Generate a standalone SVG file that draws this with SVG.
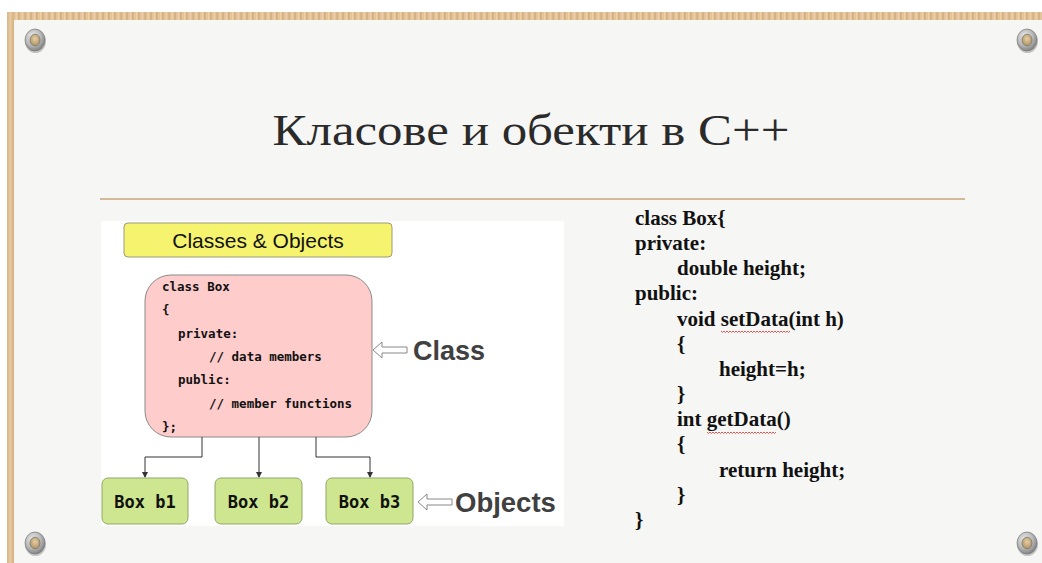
<svg xmlns="http://www.w3.org/2000/svg" width="1042" height="563" viewBox="0 0 1042 563">
<defs>
<pattern id="woodH" x="0" y="0" width="6" height="10" patternUnits="userSpaceOnUse">
<rect width="6" height="10" fill="#e3c49b"/>
<rect x="0" width="2" height="10" fill="#d8b383"/>
<rect x="4" width="1" height="10" fill="#ebd0ab"/>
</pattern>
<linearGradient id="woodV" x1="0" y1="0" x2="1" y2="0">
<stop offset="0" stop-color="#d9b689"/>
<stop offset="0.5" stop-color="#e6c9a1"/>
<stop offset="1" stop-color="#d4ae7d"/>
</linearGradient>
<radialGradient id="ring" cx="0.4" cy="0.35" r="0.75">
<stop offset="0" stop-color="#f0f0f0"/>
<stop offset="0.55" stop-color="#b5b5b5"/>
<stop offset="1" stop-color="#6e6e6e"/>
</radialGradient>
<radialGradient id="hole" cx="0.5" cy="0.4" r="0.6">
<stop offset="0" stop-color="#e6cfa6"/>
<stop offset="1" stop-color="#b0915f"/>
</radialGradient>
<g id="grommet">
<ellipse cx="0.5" cy="1.5" rx="10.5" ry="11.5" fill="#8a8a8a" opacity="0.45"/>
<ellipse cx="0" cy="0" rx="10" ry="11" fill="url(#ring)" stroke="#7a7a7a" stroke-width="0.7"/>
<ellipse cx="0" cy="0" rx="5" ry="5.8" fill="url(#hole)" stroke="#6e6e6e" stroke-width="0.7"/>
</g>
<marker id="arr" markerWidth="6" markerHeight="6" refX="5" refY="3" orient="auto" markerUnits="userSpaceOnUse">
<path d="M0,0 L6,3 L0,6 z" fill="#333"/>
</marker>
<style>
.mono{font-family:"DejaVu Sans Mono","Liberation Mono",monospace;font-weight:bold;fill:#111;}
.code{font-family:"Liberation Serif","DejaVu Serif",serif;font-weight:bold;font-size:21px;fill:#111;}
.lbl{font-family:"Liberation Sans",Arial,sans-serif;font-weight:bold;fill:#404040;}
.obj{fill:#cde68f;stroke:#8fa866;stroke-width:1;}
.conn{fill:none;stroke:#333;stroke-width:1;}
.hollow{fill:#fff;stroke:#888;stroke-width:1;}
.squig{fill:none;stroke:#e03030;stroke-width:0.8;}
</style>
</defs>

<!-- background -->
<rect width="1042" height="563" fill="#ffffff"/>
<rect x="14" y="20" width="1028" height="543" fill="#f6f6f5"/>
<rect x="7" y="12" width="1035" height="8" fill="url(#woodH)"/>
<rect x="7" y="12" width="7" height="551" fill="url(#woodV)"/>

<use href="#grommet" x="35" y="40"/>
<use href="#grommet" x="1027" y="40"/>
<use href="#grommet" x="35" y="543"/>
<use href="#grommet" x="1027" y="543"/>

<!-- title -->
<text x="531" y="145" text-anchor="middle" font-family="Liberation Serif, DejaVu Serif, serif" font-size="45" fill="#2a2a2a" textLength="517" lengthAdjust="spacingAndGlyphs">Класове и обекти в С++</text>
<line x1="100" y1="199" x2="965" y2="199" stroke="#c4a57a" stroke-width="1.5"/>

<!-- diagram panel -->
<rect x="101" y="221" width="463" height="305" fill="#ffffff"/>

<g id="title-box">
<rect x="124" y="223" width="268" height="34" rx="4" fill="#f6f46e" stroke="#9a9a7a" stroke-width="1"/>
<text x="258" y="248" text-anchor="middle" font-family="Liberation Sans, Arial, sans-serif" font-size="21" fill="#111">Classes &amp; Objects</text>
</g>

<g id="class-box">
<rect x="145" y="275" width="227" height="162" rx="26" fill="#ffcccc" stroke="#8a8a8a" stroke-width="1"/>
<text class="mono" font-size="12.5" x="162" y="291">class Box</text>
<text class="mono" font-size="12.5" x="162" y="314">{</text>
<text class="mono" font-size="12.5" x="178" y="338">private:</text>
<text class="mono" font-size="12.5" x="209" y="361">// data members</text>
<text class="mono" font-size="12.5" x="178" y="384">public:</text>
<text class="mono" font-size="12.5" x="209" y="408">// member functions</text>
<text class="mono" font-size="12.5" x="162" y="431">};</text>
</g>

<g id="connectors">
<path class="conn" d="M202,437 V457 H145 V477" marker-end="url(#arr)"/>
<path class="conn" d="M259,437 V477" marker-end="url(#arr)"/>
<path class="conn" d="M316,437 V457 H370 V477" marker-end="url(#arr)"/>
<path class="hollow" d="M373,350 L382,342 V347 H407 V353 H382 V358 Z"/>
<path class="hollow" d="M418,502 L427,494 V499 H452 V505 H427 V510 Z"/>
</g>

<g id="class-label">
<text class="lbl" x="413" y="360" font-size="27">Class</text>
</g>
<g id="objects-label">
<text class="lbl" x="455" y="512" font-size="27.5">Objects</text>
</g>

<g id="obj-b1">
<rect class="obj" x="102" y="478" width="86" height="46" rx="6"/>
<text class="mono" font-size="17" x="145" y="508" text-anchor="middle" xml:space="preserve">Box b1</text>
</g>
<g id="obj-b2">
<rect class="obj" x="215" y="478" width="87" height="46" rx="6"/>
<text class="mono" font-size="17" x="258.5" y="508" text-anchor="middle" xml:space="preserve">Box b2</text>
</g>
<g id="obj-b3">
<rect class="obj" x="326" y="478" width="87" height="46" rx="6"/>
<text class="mono" font-size="17" x="369.5" y="508" text-anchor="middle" xml:space="preserve">Box b3</text>
</g>

<!-- code -->
<g id="code">
<text class="code" x="635" y="225">class Box{</text>
<text class="code" x="635" y="250">private:</text>
<text class="code" x="677" y="275">double height;</text>
<text class="code" x="635" y="300">public:</text>
<text class="code" x="677" y="326">void setData(int h)</text>
<text class="code" x="677" y="351">{</text>
<text class="code" x="719" y="376">height=h;</text>
<text class="code" x="677" y="401">}</text>
<text class="code" x="677" y="426">int getData()</text>
<text class="code" x="677" y="451">{</text>
<text class="code" x="719" y="477">return height;</text>
<text class="code" x="677" y="502">}</text>
<text class="code" x="635" y="527">}</text>
<path class="squig" d="M721,331 l1.5,1.5 l1.5,-1.5 l1.5,1.5 l1.5,-1.5 l1.5,1.5 l1.5,-1.5 l1.5,1.5 l1.5,-1.5 l1.5,1.5 l1.5,-1.5 l1.5,1.5 l1.5,-1.5 l1.5,1.5 l1.5,-1.5 l1.5,1.5 l1.5,-1.5 l1.5,1.5 l1.5,-1.5 l1.5,1.5 l1.5,-1.5 l1.5,1.5 l1.5,-1.5 l1.5,1.5 l1.5,-1.5 l1.5,1.5 l1.5,-1.5 l1.5,1.5 l1.5,-1.5 l1.5,1.5 l1.5,-1.5 l1.5,1.5 l1.5,-1.5 l1.5,1.5 l1.5,-1.5 l1.5,1.5 l1.5,-1.5 l1.5,1.5 l1.5,-1.5 l1.5,1.5 l1.5,-1.5 l1.5,1.5 l1.5,-1.5 l1.5,1.5 l1.5,-1.5 l1.5,1.5 l1.5,-1.5"/>
<path class="squig" d="M707,432 l1.5,1.5 l1.5,-1.5 l1.5,1.5 l1.5,-1.5 l1.5,1.5 l1.5,-1.5 l1.5,1.5 l1.5,-1.5 l1.5,1.5 l1.5,-1.5 l1.5,1.5 l1.5,-1.5 l1.5,1.5 l1.5,-1.5 l1.5,1.5 l1.5,-1.5 l1.5,1.5 l1.5,-1.5 l1.5,1.5 l1.5,-1.5 l1.5,1.5 l1.5,-1.5 l1.5,1.5 l1.5,-1.5 l1.5,1.5 l1.5,-1.5 l1.5,1.5 l1.5,-1.5 l1.5,1.5 l1.5,-1.5 l1.5,1.5 l1.5,-1.5 l1.5,1.5 l1.5,-1.5 l1.5,1.5 l1.5,-1.5 l1.5,1.5 l1.5,-1.5 l1.5,1.5 l1.5,-1.5 l1.5,1.5 l1.5,-1.5 l1.5,1.5 l1.5,-1.5 l1.5,1.5 l1.5,-1.5"/>
</g>
</svg>
